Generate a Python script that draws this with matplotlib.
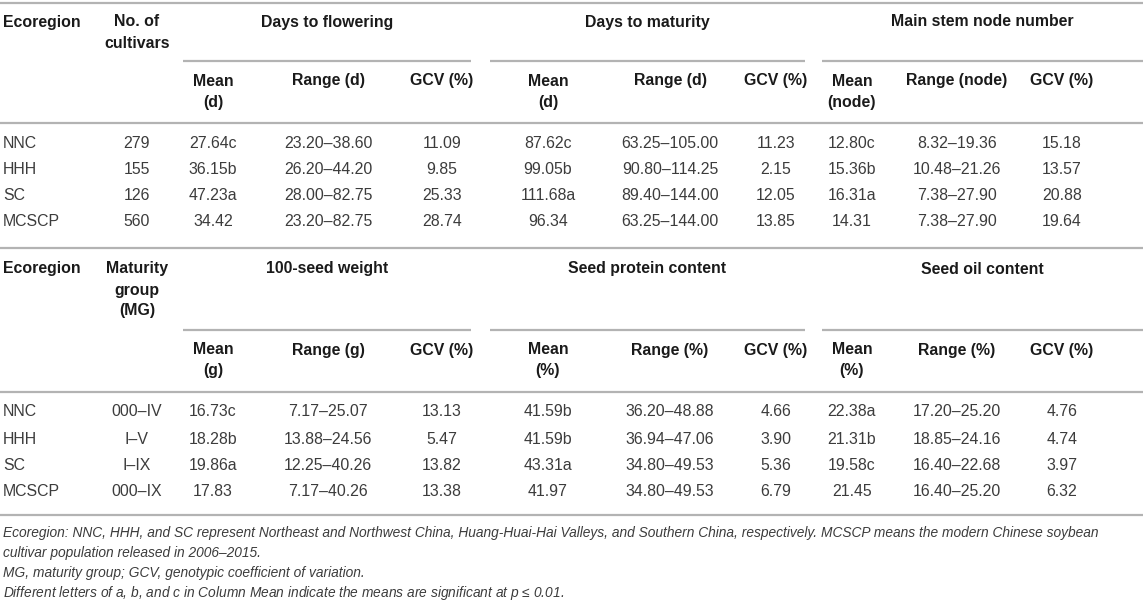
import matplotlib.pyplot as plt

# ---- data ----
ecoregions = ['NNC', 'HHH', 'SC', 'MCSCP']
n_cultivars = ['279', '155', '126', '560']
maturity_groups = ['000–IV', 'I–V', 'I–IX', '000–IX']

flower_mean = ['27.64c', '36.15b', '47.23a', '34.42']
flower_range = ['23.20–38.60', '26.20–44.20', '28.00–82.75', '23.20–82.75']
flower_gcv = ['11.09', '9.85', '25.33', '28.74']

maturity_mean = ['87.62c', '99.05b', '111.68a', '96.34']
maturity_range = ['63.25–105.00', '90.80–114.25', '89.40–144.00', '63.25–144.00']
maturity_gcv = ['11.23', '2.15', '12.05', '13.85']

node_mean = ['12.80c', '15.36b', '16.31a', '14.31']
node_range = ['8.32–19.36', '10.48–21.26', '7.38–27.90', '7.38–27.90']
node_gcv = ['15.18', '13.57', '20.88', '19.64']

seed_mean = ['16.73c', '18.28b', '19.86a', '17.83']
seed_range = ['7.17–25.07', '13.88–24.56', '12.25–40.26', '7.17–40.26']
seed_gcv = ['13.13', '5.47', '13.82', '13.38']

protein_mean = ['41.59b', '41.59b', '43.31a', '41.97']
protein_range = ['36.20–48.88', '36.94–47.06', '34.80–49.53', '34.80–49.53']
protein_gcv = ['4.66', '3.90', '5.36', '6.79']

oil_mean = ['22.38a', '21.31b', '19.58c', '21.45']
oil_range = ['17.20–25.20', '18.85–24.16', '16.40–22.68', '16.40–25.20']
oil_gcv = ['4.76', '4.74', '3.97', '6.32']

groups_top = ['Days to flowering', 'Days to maturity', 'Main stem node number']
groups_bottom = ['100-seed weight', 'Seed protein content', 'Seed oil content']
sub_top = [['Mean\n(d)', 'Range (d)', 'GCV (%)'],
           ['Mean\n(d)', 'Range (d)', 'GCV (%)'],
           ['Mean\n(node)', 'Range (node)', 'GCV (%)']]
sub_bottom = [['Mean\n(g)', 'Range (g)', 'GCV (%)'],
              ['Mean\n(%)', 'Range (%)', 'GCV (%)'],
              ['Mean\n(%)', 'Range (%)', 'GCV (%)']]

footnotes = [
    'Ecoregion: NNC, HHH, and SC represent Northeast and Northwest China, Huang-Huai-Hai Valleys, '
    'and Southern China, respectively. MCSCP means the modern Chinese soybean',
    'cultivar population released in 2006–2015.',
    'MG, maturity group; GCV, genotypic coefficient of variation.',
    'Different letters of a, b, and c in Column Mean indicate the means are significant at $p$ ≤ 0.01.',
]

# ---- layout ----
plt.rcParams['font.family'] = ['Liberation Sans', 'DejaVu Sans']
plt.rcParams['mathtext.fontset'] = 'custom'
plt.rcParams['mathtext.it'] = 'Liberation Sans:italic'
W, H = 1143, 603
fig = plt.figure(figsize=(W / 100, H / 100), dpi=100)
ax = fig.add_axes([0, 0, 1, 1])
ax.set_xlim(0, W)
ax.set_ylim(H, 0)
ax.axis('off')

rule_color = '#b3b3b3'
head_color = '#1a1a1a'
body_color = '#3c3c3c'
fs = 11.4

col_x = [137, 213, 328, 442, 548, 670, 776, 852, 957, 1062]
group_spans = [(183, 471), (490, 805), (822, 1143)]


def hrule(y, x0=0, x1=W):
    ax.plot([x0, x1], [y, y], color=rule_color, lw=1.6, solid_capstyle='butt')


def block(y0, second_label, groups, subs, columns, extra=0):
    # header
    ax.text(3, y0 + 22, 'Ecoregion', fontsize=fs, fontweight='bold',
            color=head_color, va='center', ha='left')
    for i, ln in enumerate(second_label.split('\n')):
        ax.text(col_x[0], y0 + 22 + 21 * i, ln, fontsize=fs, fontweight='bold',
                color=head_color, va='center', ha='center')
    for k, (g, (xa, xb), sub) in enumerate(zip(groups, group_spans, subs)):
        ax.text((xa + xb) / 2, y0 + 22, g, fontsize=fs, fontweight='bold',
                color=head_color, va='center', ha='center')
        hrule(y0 + 61 + extra, xa, xb)
        for j, s in enumerate(sub):
            for i, ln in enumerate(s.split('\n')):
                ax.text(col_x[1 + 3 * k + j], y0 + 81 + extra + 21 * i, ln,
                        fontsize=fs, fontweight='bold', color=head_color,
                        va='center', ha='center')
    hrule(y0 + 123 + extra)
    # body
    for r in range(len(ecoregions)):
        yy = y0 + extra + [143, 170, 196, 222][r]
        ax.text(3, yy, ecoregions[r], fontsize=fs, color=body_color,
                va='center', ha='left')
        for cx, col in zip(col_x, columns):
            ax.text(cx, yy, col[r], fontsize=fs, color=body_color,
                    va='center', ha='center')


hrule(3)
block(0, 'No. of\ncultivars', groups_top, sub_top,
      [n_cultivars, flower_mean, flower_range, flower_gcv,
       maturity_mean, maturity_range, maturity_gcv,
       node_mean, node_range, node_gcv])
hrule(248)
block(247, 'Maturity\ngroup\n(MG)', groups_bottom, sub_bottom,
      [maturity_groups, seed_mean, seed_range, seed_gcv,
       protein_mean, protein_range, protein_gcv,
       oil_mean, oil_range, oil_gcv], extra=22)
hrule(515)

for i, note in enumerate(footnotes):
    ax.text(3, 533 + 20 * i, note, fontsize=9.9, style='italic',
            color=body_color, va='center', ha='left')

fig.savefig('out.png', dpi=100)
